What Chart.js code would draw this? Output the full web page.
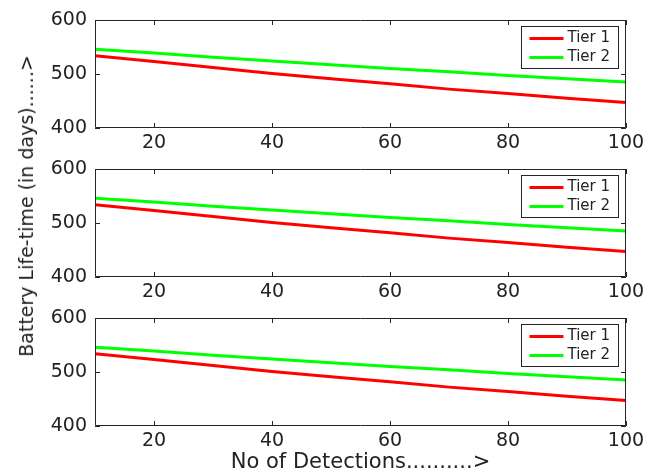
<!DOCTYPE html>
<html>
<head>
<meta charset="utf-8">
<script src="https://cdn.jsdelivr.net/npm/chart.js@4"></script>
<style>
  html, body { margin: 0; padding: 0; background: #fff; }
  body { width: 659px; height: 475px; position: relative; overflow: hidden; font-family: "DejaVu Sans", sans-serif; }
  .panel { position: absolute; left: 0; width: 659px; }
  #yTitle {
    position: absolute; left: 26px; top: 206px;
    transform: translate(-50%, -50%) rotate(-90deg);
    white-space: nowrap; font-size: 19px; color: #222;
  }
</style>
</head>
<body>
<div class="panel" style="top:0;height:150px"><canvas id="c1"></canvas></div>
<div class="panel" style="top:149px;height:150px"><canvas id="c2"></canvas></div>
<div class="panel" style="top:298px;height:177px"><canvas id="c3"></canvas></div>
<div id="yTitle">Battery Life-time (in days)......&gt;</div>
<script>
// values (same curves in all three panels)
const detections = [10, 20, 30, 40, 50, 60, 70, 80, 90, 100];
const tier1 = [534, 523, 512, 501, 491, 482, 472, 464, 455, 447];
const tier2 = [546, 539, 531, 524, 517, 510, 504, 497, 491, 485];
const seriesNames = ['Tier 1', 'Tier 2'];
const seriesColors = ['#ff0000', '#00ff00'];
const xTicks = [20, 40, 60, 80, 100];
const yTicks = [400, 500, 600];
const xTitle = 'No of Detections..........>';

Chart.defaults.font.family = "'DejaVu Sans', sans-serif";
Chart.defaults.color = '#222';

// matlab style box with inward ticks, plus the legend in the upper right
const framePlugin = {
    id: 'frame',
    afterDatasetsDraw(chart) {
        const ctx = chart.ctx;
        const a = chart.chartArea;
        const x = chart.scales.x;
        const y = chart.scales.y;
        ctx.save();
        ctx.strokeStyle = '#262626';
        ctx.lineWidth = 1;
        ctx.beginPath();
        ctx.rect(a.left + 0.5, a.top + 0.5, a.right - a.left - 1, a.bottom - a.top - 1);
        xTicks.forEach(v => {
            const px = Math.round(x.getPixelForValue(v)) + 0.5;
            ctx.moveTo(px, a.bottom); ctx.lineTo(px, a.bottom - 5);
            ctx.moveTo(px, a.top); ctx.lineTo(px, a.top + 5);
        });
        yTicks.forEach(v => {
            const py = Math.round(y.getPixelForValue(v)) + 0.5;
            ctx.moveTo(a.left, py); ctx.lineTo(a.left + 5, py);
            ctx.moveTo(a.right, py); ctx.lineTo(a.right - 5, py);
        });
        ctx.stroke();

        // legend
        const bw = 97, bh = 42;
        const bx = Math.round(a.right - 8 - bw) + 0.5;
        const by = Math.round(a.top + 6) + 0.5;
        ctx.fillStyle = '#fff';
        ctx.fillRect(bx, by, bw, bh);
        ctx.strokeRect(bx, by, bw, bh);
        ctx.font = "15px 'DejaVu Sans', sans-serif";
        ctx.textBaseline = 'middle';
        chart.data.datasets.forEach((ds, i) => {
            const ry = by + 12 + i * 19;
            ctx.strokeStyle = ds.borderColor;
            ctx.lineWidth = 3;
            ctx.beginPath();
            ctx.moveTo(bx + 8, ry); ctx.lineTo(bx + 42, ry);
            ctx.stroke();
            ctx.fillStyle = '#222';
            ctx.fillText(ds.label, bx + 46, ry);
        });
        ctx.restore();
    }
};

function makePanel(id, axisHeight, showTitle) {
    new Chart(document.getElementById(id), {
        type: 'line',
        data: {
            datasets: [tier1, tier2].map((vals, i) => ({
                label: seriesNames[i],
                data: detections.map((d, j) => ({ x: d, y: vals[j] })),
                borderColor: seriesColors[i],
                borderWidth: 3,
                pointRadius: 0,
                tension: 0
            }))
        },
        options: {
            responsive: true,
            maintainAspectRatio: false,
            animation: false,
            layout: { padding: { top: 20, right: 33, left: 0, bottom: 0 } },
            plugins: {
                legend: { display: false },
                tooltip: { enabled: false }
            },
            scales: {
                x: {
                    type: 'linear',
                    min: 10,
                    max: 100,
                    afterBuildTicks: s => { s.ticks = xTicks.map(v => ({ value: v })); },
                    afterFit: s => { s.height = axisHeight; },
                    grid: { display: false, drawTicks: false },
                    border: { display: false },
                    ticks: { font: { size: 19 }, padding: 4, maxRotation: 0, autoSkip: false },
                    title: {
                        display: showTitle,
                        text: xTitle,
                        font: { size: 21 },
                        padding: { top: 0, bottom: 0 }
                    }
                },
                y: {
                    min: 400,
                    max: 600,
                    afterBuildTicks: s => { s.ticks = yTicks.map(v => ({ value: v })); },
                    afterFit: s => { s.width = 95; },
                    grid: { display: false, drawTicks: false },
                    border: { display: false },
                    ticks: { font: { size: 19 }, padding: 8 }
                }
            }
        },
        plugins: [framePlugin]
    });
}

makePanel('c1', 22, false);
makePanel('c2', 22, false);
makePanel('c3', 49, true);
</script>
</body>
</html>
